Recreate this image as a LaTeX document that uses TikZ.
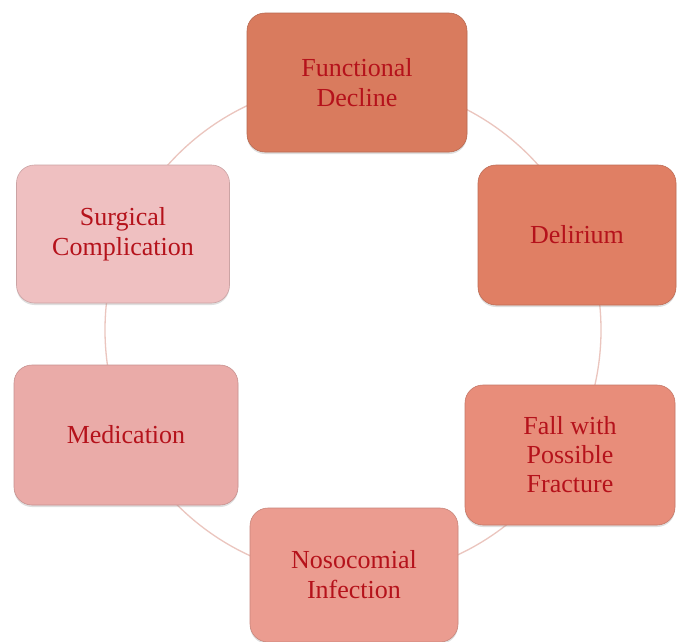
\documentclass[tikz,border=0pt]{standalone}
\usepackage{fontspec}
\setmainfont{Liberation Serif}
\usetikzlibrary{shadows}
\definecolor{cFunc}{HTML}{D97B5E}
\definecolor{cDel}{HTML}{E07F64}
\definecolor{cFall}{HTML}{E88D7A}
\definecolor{cNoso}{HTML}{EB9C90}
\definecolor{cMed}{HTML}{EAABA8}
\definecolor{cSurg}{HTML}{EFC0C1}
\definecolor{cText}{HTML}{B5121B}
\definecolor{cRing}{HTML}{EBC5BE}
\tikzset{
  cyclebox/.style={rectangle, rounded corners=18pt, align=center, text=cText,
    font=\fontsize{26}{30}\selectfont, inner sep=0pt,
    drop shadow={shadow xshift=0pt, shadow yshift=-2pt, opacity=0.25},
    line width=0.6pt},
  ring/.style={draw=cRing, line width=1.3pt}
}
\begin{document}
\begin{tikzpicture}[x=1pt,y=-1pt]
\useasboundingbox (0,0) rectangle (677,641);
\fill[white] (0,0) rectangle (677,641);
\coordinate (ringc) at (353,330);
\draw[ring] (ringc) circle[radius=248];
\node[cyclebox, fill=cFunc, draw=cFunc!85!black, minimum width=220pt, minimum height=139pt] (func) at (357,82.5) {Functional\\Decline};
\node[cyclebox, fill=cDel, draw=cDel!85!black, minimum width=198pt, minimum height=140pt] (del) at (577,235) {Delirium};
\node[cyclebox, fill=cFall, draw=cFall!85!black, minimum width=210pt, minimum height=140pt, font=\fontsize{26}{29}\selectfont] (fall) at (570,455) {Fall with\\Possible\\Fracture};
\node[cyclebox, fill=cNoso, draw=cNoso!85!black, minimum width=208pt, minimum height=134pt] (noso) at (354,575) {Nosocomial\\Infection};
\node[cyclebox, fill=cMed, draw=cMed!85!black, minimum width=224pt, minimum height=140pt] (med) at (126,435) {Medication};
\node[cyclebox, fill=cSurg, draw=cSurg!85!black, minimum width=213pt, minimum height=138pt] (surg) at (123,234) {Surgical\\Complication};
\end{tikzpicture}
\end{document}
